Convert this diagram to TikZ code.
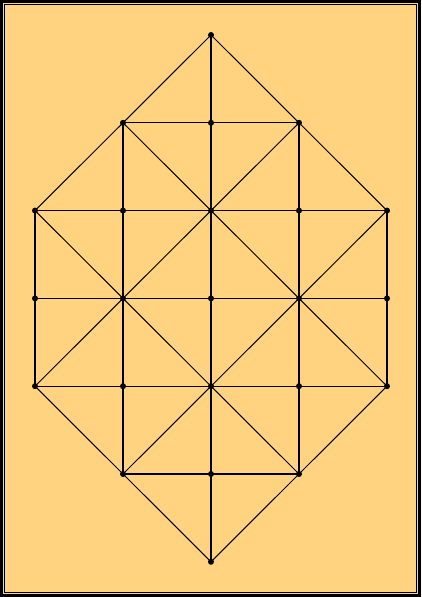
\documentclass[tikz,border=0pt]{standalone}
\definecolor{bgorange}{RGB}{255,211,128}
\begin{document}
\begin{tikzpicture}[x=1pt,y=-1pt,
  gridline/.style={black,line width=1.3pt},
  diagline/.style={black,line width=1pt},
  dot/.style={circle,fill=black,inner sep=0pt,minimum size=6pt}]
\useasboundingbox (0,0) rectangle (421,597);
\fill[bgorange] (0,0) rectangle (421,597);
\draw[line width=2.6pt] (1.3,1.3) rectangle (419.7,595.7);
\draw[line width=1pt] (4.5,4.5) rectangle (416.5,592.5);
% coordinates
\foreach \i/\x in {0/35,1/123,2/211,3/299,4/387}{
  \foreach \j/\y in {0/35,1/122.8,2/210.6,3/298.4,4/386.2,5/474,6/561.8}{
    \coordinate (p-\i-\j) at (\x,\y);
  }
}
% horizontal lines
\draw[gridline] (p-1-1) -- (p-3-1);
\draw[gridline] (p-0-2) -- (p-4-2);
\draw[gridline] (p-0-3) -- (p-4-3);
\draw[gridline] (p-0-4) -- (p-4-4);
\draw[gridline] (p-1-5) -- (p-3-5);
% vertical lines
\draw[gridline] (p-0-2) -- (p-0-4);
\draw[gridline] (p-1-1) -- (p-1-5);
\draw[gridline] (p-2-0) -- (p-2-6);
\draw[gridline] (p-3-1) -- (p-3-5);
\draw[gridline] (p-4-2) -- (p-4-4);
% outline diagonals
\draw[diagline] (p-0-2) -- (p-2-0) -- (p-4-2);
\draw[diagline] (p-0-4) -- (p-2-6) -- (p-4-4);
% inner diagonals
\draw[diagline] (p-1-1) -- (p-4-4);
\draw[diagline] (p-0-2) -- (p-3-5);
\draw[diagline] (p-3-1) -- (p-0-4);
\draw[diagline] (p-4-2) -- (p-1-5);
% dots
\node[dot] (d-2-0) at (p-2-0) {};
\node[dot] (d-2-6) at (p-2-6) {};
\foreach \i in {1,2,3}{
  \node[dot] (d-\i-1) at (p-\i-1) {};
  \node[dot] (d-\i-5) at (p-\i-5) {};
}
\foreach \i in {0,...,4}{
  \foreach \j in {2,3,4}{
    \node[dot] (d-\i-\j) at (p-\i-\j) {};
  }
}
\end{tikzpicture}
\end{document}
